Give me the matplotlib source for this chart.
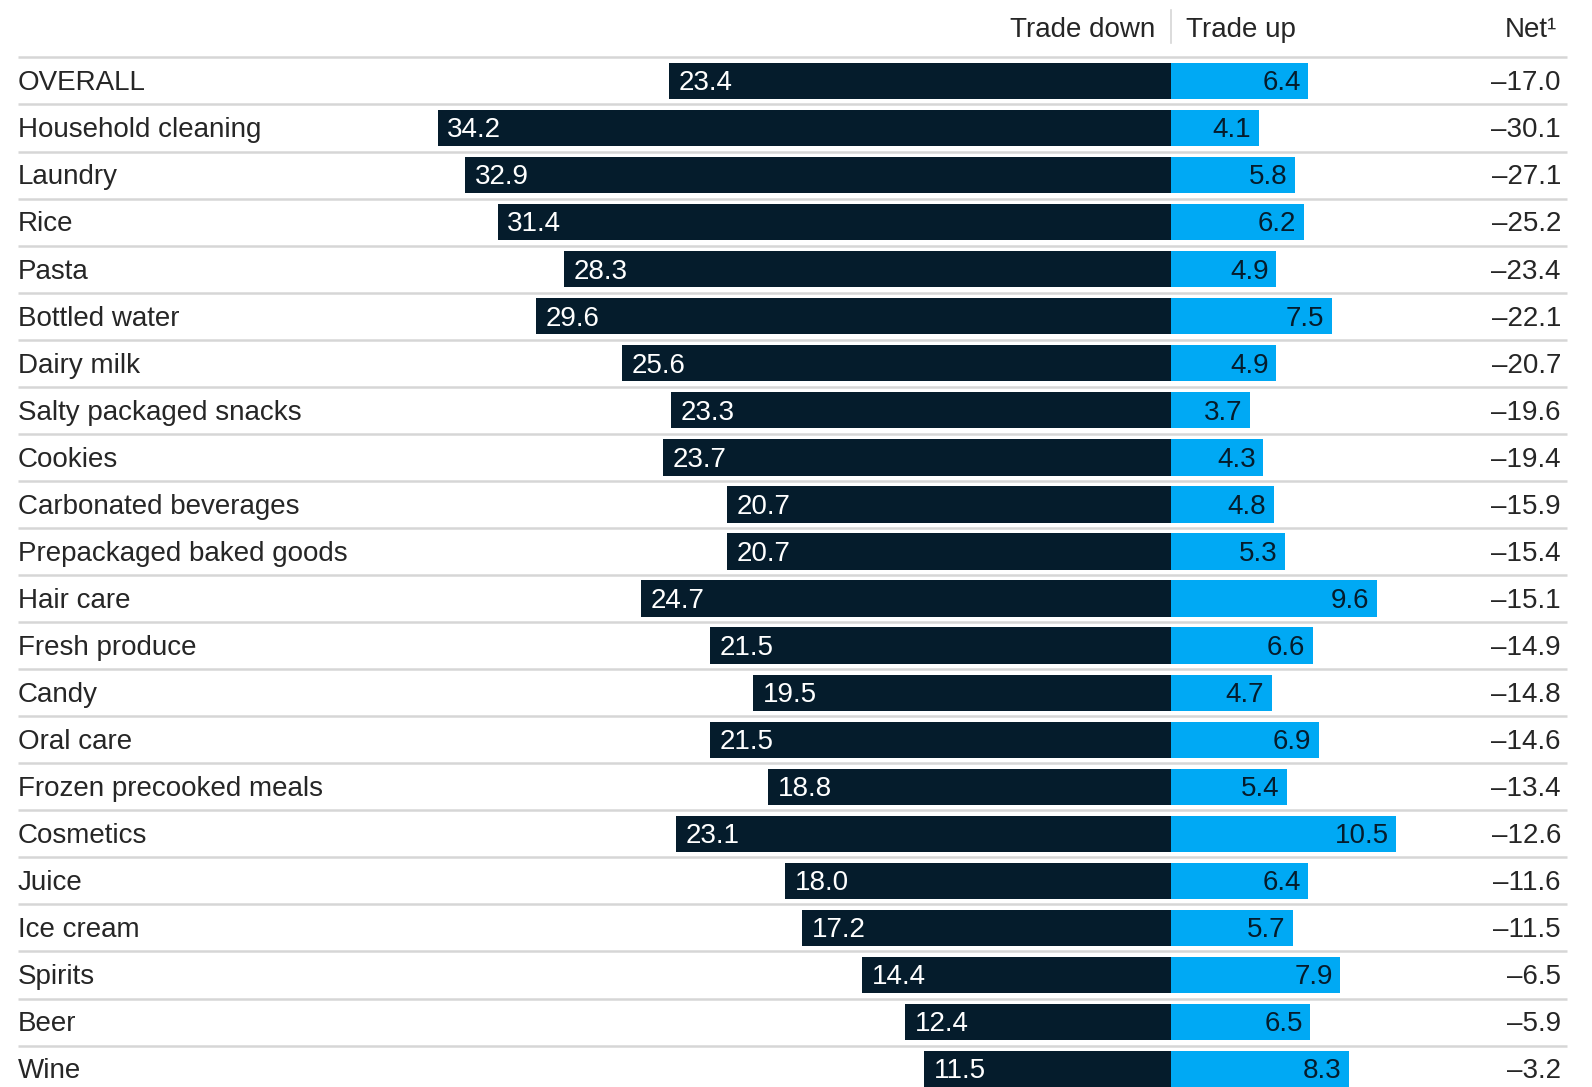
import matplotlib.pyplot as plt

# consumer trade-down vs trade-up intent by category, % of respondents
categories = ['OVERALL', 'Household cleaning', 'Laundry', 'Rice', 'Pasta', 'Bottled water',
              'Dairy milk', 'Salty packaged snacks', 'Cookies', 'Carbonated beverages',
              'Prepackaged baked goods', 'Hair care', 'Fresh produce', 'Candy', 'Oral care',
              'Frozen precooked meals', 'Cosmetics', 'Juice', 'Ice cream', 'Spirits', 'Beer', 'Wine']
trade_down = [23.4, 34.2, 32.9, 31.4, 28.3, 29.6, 25.6, 23.3, 23.7, 20.7, 20.7,
              24.7, 21.5, 19.5, 21.5, 18.8, 23.1, 18.0, 17.2, 14.4, 12.4, 11.5]
trade_up = [6.4, 4.1, 5.8, 6.2, 4.9, 7.5, 4.9, 3.7, 4.3, 4.8, 5.3,
            9.6, 6.6, 4.7, 6.9, 5.4, 10.5, 6.4, 5.7, 7.9, 6.5, 8.3]
net = [-17.0, -30.1, -27.1, -25.2, -23.4, -22.1, -20.7, -19.6, -19.4, -15.9, -15.4,
       -15.1, -14.9, -14.8, -14.6, -13.4, -12.6, -11.6, -11.5, -6.5, -5.9, -3.2]

NAVY = '#051c2c'
BLUE = '#00a9f4'
GRID = '#d6d6d6'
TXT = '#262626'

plt.rcParams['font.family'] = ['Liberation Sans', 'DejaVu Sans']

fig = plt.figure(figsize=(15.92, 10.87), dpi=100)
ax = fig.add_axes([0, 0, 1, 1])
ax.set_xlim(-54.6, 19.63)
ax.set_ylim(21.38, -1.72)
ax.axis('off')

rows = range(len(categories))
ax.barh(rows, [-v for v in trade_down], height=0.77, color=NAVY, zorder=2)
ax.barh(rows, trade_up, height=0.77, color=BLUE, zorder=2)

yt = ax.get_yaxis_transform()
fs = 20
dy = 0.05  # nudge text down so the caps sit centred on the bars

# row separators
for i in range(len(categories)):
    ax.plot([0.011, 0.984], [i - 0.5, i - 0.5], transform=yt, color=GRID, lw=1.8,
            zorder=1, solid_capstyle='butt')

for i, (cat, d, u, n) in enumerate(zip(categories, trade_down, trade_up, net)):
    ax.text(0.011, i + dy, cat, transform=yt, ha='left', va='center', fontsize=fs, color=TXT)
    ax.text(-d + 0.45, i + dy, f'{d:.1f}', ha='left', va='center', fontsize=fs,
            color='white', zorder=3)
    ax.text(u - 0.35, i + dy, f'{u:.1f}', ha='right', va='center', fontsize=fs,
            color=NAVY, zorder=3)
    ax.text(0.9805, i + dy, f'\u2013{abs(n):.1f}', transform=yt, ha='right', va='center',
            fontsize=fs, color=TXT)

# column headers
ax.text(-0.75, -1.14 + dy, 'Trade down', ha='right', va='center', fontsize=fs, color=TXT)
ax.text(0.7, -1.14 + dy, 'Trade up', ha='left', va='center', fontsize=fs, color=TXT)
ax.text(0.978, -1.14 + dy, 'Net\u00b9', transform=yt, ha='right', va='center',
        fontsize=fs, color=TXT)
ax.plot([0, 0], [-1.51, -0.8], color=GRID, lw=1.2)

fig.savefig('out.png', dpi=100)
